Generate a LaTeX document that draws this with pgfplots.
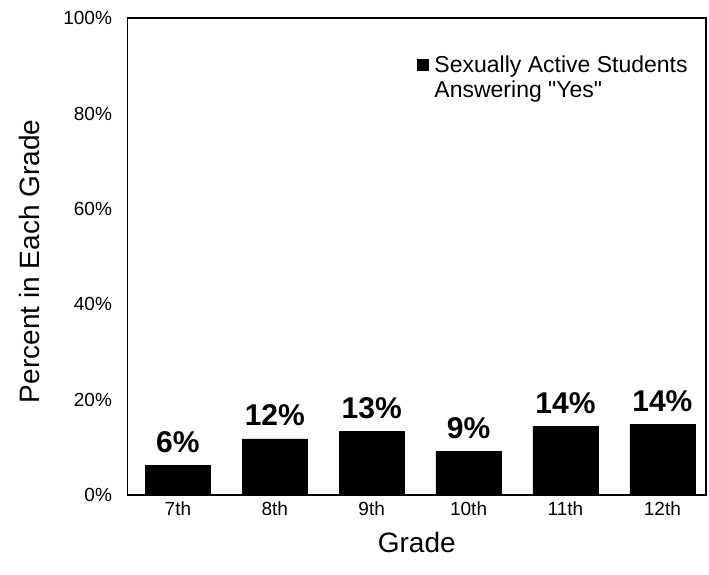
\documentclass[border=0pt]{standalone}
\usepackage{pgfplots}
\pgfplotsset{compat=1.18}
\usepackage{fontspec}
\setmainfont{Liberation Sans}[Ligatures=TeXOff]

\begin{document}
\begin{tikzpicture}
\begin{axis}[
    scale only axis,
    width=576bp, height=475bp,
    ymin=0, ymax=100,
    xmin=-0.52, xmax=5.45,
    ytick={0,20,...,100},
    yticklabel={\pgfmathprintnumber{\tick}\%},
    xtick=data,
    xticklabels={7th,8th,9th,10th,11th,12th},
    major tick length=0pt,
    /pgf/number format/assume math mode=true,
    tick label style={font=\fontsize{19}{22}\selectfont},
    y tick label style={xshift=-12bp},
    x tick label style={yshift=-3bp},
    axis line style={line width=1.2pt},
    xlabel={Grade},
    ylabel={Percent in Each Grade},
    label style={font=\fontsize{28}{30}\selectfont},
    xlabel style={at={(axis description cs:0.5,-0.099)}, anchor=center},
    ylabel style={at={(axis description cs:-0.17,0.49)}, anchor=center},
    legend style={draw=none, fill=none, at={(0.5,0.925)}, anchor=north west,
        font=\fontsize{23}{24}\selectfont, legend cell align=left,
        inner sep=0pt},
    legend image code/.code={\fill[black] (0bp,7bp) rectangle (11bp,18bp);
        \path (15bp,7bp);},
    nodes near coords={\textbf{\pgfplotspointmeta\%}},
    point meta=explicit symbolic,
    every node near coord/.append style={font=\fontsize{30}{32}\selectfont, anchor=south, yshift=9bp},
]
\addplot[ybar, bar width=65bp, fill=black, draw=black] coordinates {
    (0,6.2) [6]
    (1,11.8) [12]
    (2,13.4) [13]
    (3,9.2) [9]
    (4,14.4) [14]
    (5,14.8) [14]
};
\legend{\shortstack[l]{Sexually Active Students\\Answering "Yes"}}
\end{axis}
\path (-127bp,-79bp) rectangle (579bp,493bp);
\end{tikzpicture}
\end{document}
